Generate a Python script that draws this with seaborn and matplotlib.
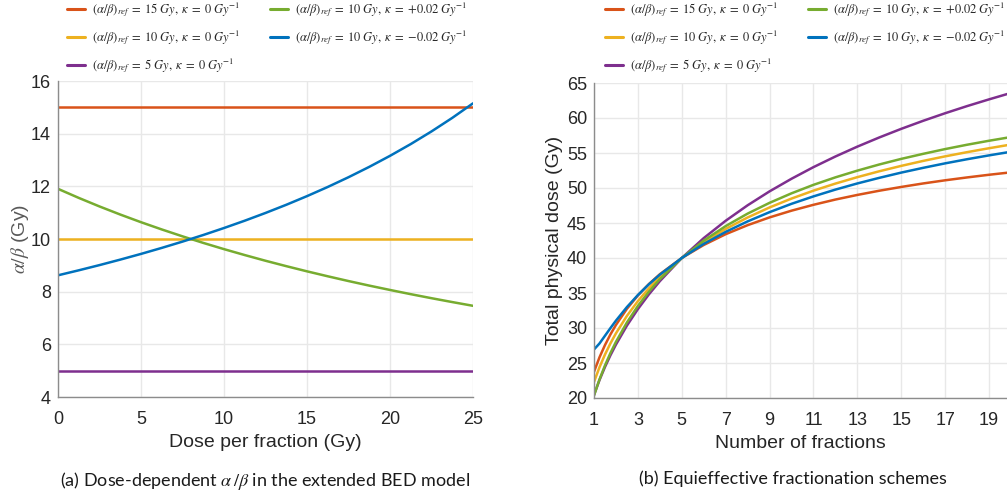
import matplotlib
matplotlib.use("Agg")
import matplotlib.pyplot as plt
import seaborn as sns
import pandas as pd
from matplotlib.lines import Line2D

# ---------------- data ----------------
# (a) dose-dependent alpha/beta
dose_per_fraction = [0, 1.25, 2.5, 3.75, 5, 6.25, 7.5, 8.75, 10, 11.25, 12.5, 13.75, 15,
                     16.25, 17.5, 18.75, 20, 21.25, 22.5, 23.75, 25]
ab_ref15_k0 = [15] * 21
ab_ref10_k0 = [10] * 21
ab_ref5_k0 = [5] * 21
ab_ref10_kpos = [11.905, 11.561, 11.236, 10.929, 10.638, 10.363, 10.101, 9.852, 9.615, 9.390, 9.174,
                 8.969, 8.772, 8.584, 8.403, 8.230, 8.065, 7.905, 7.752, 7.605, 7.463]
ab_ref10_kneg = [8.621, 8.811, 9.009, 9.217, 9.434, 9.662, 9.901, 10.152, 10.417, 10.695, 10.989,
                 11.299, 11.628, 11.976, 12.346, 12.739, 13.158, 13.605, 14.085, 14.599, 15.152]

# (b) equieffective total dose vs number of fractions
n_fractions = [1, 1.25, 1.5, 1.75, 2, 2.5, 3, 3.5, 4, 5, 6, 7, 8, 9, 10,
               11, 12, 13, 14, 15, 16, 17, 18, 19, 20]
dose_ref15_k0 = [23.75, 25.81, 27.56, 29.09, 30.44, 32.74, 34.65, 36.27, 37.68, 40.0, 41.86, 43.40,
                 44.69, 45.80, 46.76, 47.60, 48.35, 49.01, 49.61, 50.15, 50.65, 51.10, 51.51, 51.89, 52.24]
dose_ref10_k0 = [22.29, 24.39, 26.21, 27.81, 29.24, 31.73, 33.84, 35.66, 37.27, 40.0, 42.25, 44.15,
                 45.79, 47.22, 48.49, 49.62, 50.63, 51.55, 52.39, 53.16, 53.87, 54.52, 55.12, 55.68, 56.21]
dose_ref5_k0 = [20.44, 22.56, 24.43, 26.11, 27.63, 30.34, 32.70, 34.80, 36.69, 40.0, 42.84, 45.32,
                47.53, 49.52, 51.32, 52.98, 54.50, 55.91, 57.22, 58.45, 59.60, 60.68, 61.70, 62.66, 63.58]
dose_ref10_kpos = [20.35, 22.65, 24.65, 26.43, 28.02, 30.79, 33.15, 35.18, 36.97, 40.0, 42.48, 44.56,
                   46.34, 47.88, 49.24, 50.45, 51.52, 52.48, 53.36, 54.16, 54.88, 55.56, 56.18, 56.75, 57.28]
dose_ref10_kneg = [26.93, 27.79, 28.89, 29.99, 31.05, 32.99, 34.71, 36.24, 37.62, 40.0, 42.01, 43.73,
                   45.23, 46.55, 47.74, 48.80, 49.77, 50.65, 51.45, 52.20, 52.88, 53.52, 54.11, 54.66, 55.18]

series_keys = ["r15k0", "r10k0", "r5k0", "r10kp", "r10kn"]
series_labels = [
    r"$(\alpha/\beta)_{ref}\;=\;15\;Gy,\;\kappa\;=\;0\;Gy^{-1}$",
    r"$(\alpha/\beta)_{ref}\;=\;10\;Gy,\;\kappa\;=\;0\;Gy^{-1}$",
    r"$(\alpha/\beta)_{ref}\;=\;5\;Gy,\;\kappa\;=\;0\;Gy^{-1}$",
    r"$(\alpha/\beta)_{ref}\;=\;10\;Gy,\;\kappa\;=\;{+}0.02\;Gy^{-1}$",
    r"$(\alpha/\beta)_{ref}\;=\;10\;Gy,\;\kappa\;=\;{-}0.02\;Gy^{-1}$",
]
series_colors = ["#D95319", "#EDB120", "#7E2F8E", "#77AC30", "#0072BD"]
palette = dict(zip(series_keys, series_colors))

dfa = pd.concat([
    pd.DataFrame({"d": dose_per_fraction, "v": vals, "s": k})
    for k, vals in zip(series_keys, [ab_ref15_k0, ab_ref10_k0, ab_ref5_k0, ab_ref10_kpos, ab_ref10_kneg])
])
dfb = pd.concat([
    pd.DataFrame({"n": n_fractions, "v": vals, "s": k})
    for k, vals in zip(series_keys, [dose_ref15_k0, dose_ref10_k0, dose_ref5_k0, dose_ref10_kpos, dose_ref10_kneg])
])

# ---------------- style ----------------
sns.set_style("white")
plt.rcParams["font.family"] = ["Liberation Sans", "DejaVu Sans"]
plt.rcParams["mathtext.fontset"] = "stix"

TXT = "#262626"
AX = "#8c8c8c"
GRID = "#e8e8e8"

fig = plt.figure(figsize=(10.07, 4.98), dpi=100)
W, H = 1007, 498
axL = fig.add_axes([58 / W, 1 - 397 / H, (473 - 58) / W, (397 - 81) / H])
axR = fig.add_axes([594 / W, 1 - 398 / H, (1007 - 594) / W, (398 - 83) / H])

sns.lineplot(data=dfa, x="d", y="v", hue="s", hue_order=series_keys, palette=palette,
             linewidth=1.8, legend=False, ax=axL, sort=False)
sns.lineplot(data=dfb, x="n", y="v", hue="s", hue_order=series_keys, palette=palette,
             linewidth=1.8, legend=False, ax=axR, sort=False)

axL.set_xlim(0, 25)
axL.set_ylim(4, 16)
axL.set_xticks([0, 5, 10, 15, 20, 25])
axL.set_yticks([4, 6, 8, 10, 12, 14, 16])

axR.set_xlim(1, 19.82)
axR.set_ylim(20, 65)
axR.set_xticks([1, 3, 5, 7, 9, 11, 13, 15, 17, 19])
axR.set_yticks(list(range(20, 66, 5)))

for ax in (axL, axR):
    ax.grid(True, color=GRID, linewidth=1.0)
    ax.set_axisbelow(True)
    for side in ("top", "right"):
        ax.spines[side].set_visible(False)
    for side in ("left", "bottom"):
        ax.spines[side].set_color(AX)
        ax.spines[side].set_linewidth(1.0)
    ax.tick_params(axis="both", direction="in", length=3, width=0.8, color=AX,
                   labelcolor=TXT, labelsize=13)
    ax.tick_params(axis="x", pad=10)
    ax.tick_params(axis="y", pad=5)

axL.set_xlabel("Dose per fraction (Gy)", fontsize=14, color=TXT)
axL.set_ylabel(r"$\alpha/\beta$ (Gy)", fontsize=14, color="#595959")
axR.set_xlabel("Number of fractions", fontsize=14, color=TXT)
axR.set_ylabel("Total physical dose (Gy)", fontsize=14, color=TXT)
axL.xaxis.set_label_coords(0.5, -0.118)
axR.xaxis.set_label_coords(0.5, -0.118)
axL.yaxis.set_label_coords(-0.065, 0.5)
axR.yaxis.set_label_coords(-0.075, 0.5)

# legends
handles = [Line2D([], [], color=c, linewidth=2.2) for c in series_colors]
for x0 in (67, 605):
    fig.legend(handles, series_labels, loc="upper left", bbox_to_anchor=(x0 / W, 1 - 0 / H),
               ncol=2, frameon=False, fontsize=9, handlelength=1.45, handletextpad=0.55,
               columnspacing=2.4, labelspacing=0.75, borderpad=0, borderaxespad=0,
               labelcolor=TXT)

# captions
fig.text(265 / W, 1 - 481 / H, r"(a) Dose-dependent $\alpha\,/\beta$ in the extended BED model",
         ha="center", va="center", fontsize=13, family=["Lato", "DejaVu Sans"], color="#1a1a1a")
fig.text(793 / W, 1 - 479 / H, "(b) Equieffective fractionation schemes",
         ha="center", va="center", fontsize=13, family=["Lato", "DejaVu Sans"], color="#1a1a1a")

fig.savefig("out.png", dpi=100)
